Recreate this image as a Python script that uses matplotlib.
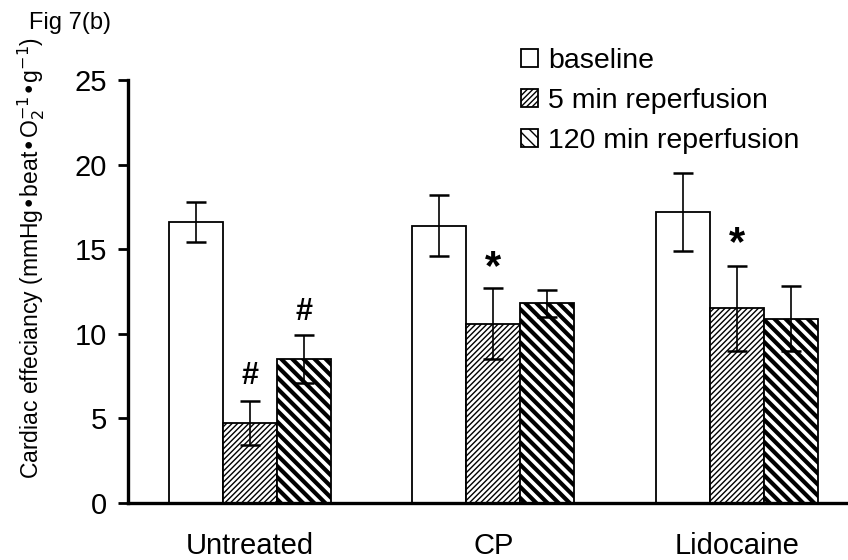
import numpy as np
import matplotlib as mpl
mpl.use('Agg')
import matplotlib.pyplot as plt

groups   = ['Untreated', 'CP', 'Lidocaine']
series   = ['baseline', '5 min reperfusion', '120 min reperfusion']
means    = [[16.6, 16.4, 17.2],     # baseline
            [4.7, 10.6, 11.5],      # 5 min reperfusion
            [8.5, 11.8, 10.9]]      # 120 min reperfusion
errs     = [[1.2, 1.8, 2.3],
            [1.3, 2.1, 2.5],
            [1.4, 0.8, 1.9]]
# significance marks: (group, series, label, y)
marks    = [(0, 1, '#', 7.5), (0, 2, '#', 11.3),
            (1, 1, '*', 13.9), (2, 1, '*', 15.3)]

mpl.rcParams['font.family'] = 'Liberation Sans'
mpl.rcParams['hatch.linewidth'] = 1.0

fig = plt.figure(figsize=(8.48, 5.6), dpi=100)
ax = fig.add_axes([0.151, 0.102, 0.849, 0.755])

x = np.arange(len(groups))
w = 0.222
hatches = ['', '//////', '\\\\\\']
for i in range(3):
    pos = x + (i - 1) * w
    bars = ax.bar(pos, means[i], w, color='white', edgecolor='black',
                  linewidth=1.3, hatch=hatches[i], label=series[i], zorder=2)
    if i == 2:
        for b in bars:
            b.set_hatch_linewidth(3.0)
    ax.errorbar(pos, means[i], yerr=errs[i], fmt='none', ecolor='black',
                elinewidth=1.2, capsize=7, capthick=1.8, zorder=3)

for g, s, lab, yv in marks:
    ax.text(x[g] + (s - 1) * w, yv, lab, ha='center', va='center',
            fontsize=30 if lab == '*' else 22, fontweight='bold')

ax.set_xlim(-0.5, 2.456)
ax.set_ylim(0, 25)
ax.set_yticks([0, 5, 10, 15, 20, 25])
ax.set_xticks(x)
ax.set_xticklabels(groups, fontsize=21)
ax.tick_params(axis='x', length=0, pad=21)
ax.tick_params(axis='y', labelsize=21, length=7, width=2, direction='out', pad=8)
for side in ['top', 'right']:
    ax.spines[side].set_visible(False)
for side in ['left', 'bottom']:
    ax.spines[side].set_linewidth(2.4)

ax.set_ylabel(r'Cardiac effeciancy (mmHg•beat•O$_2^{-1}$•g$^{-1}$)', fontsize=16.5)
ax.yaxis.set_label_coords(-0.113, 0.58)

leg = fig.legend(loc='upper left', bbox_to_anchor=(0.598, 0.94), frameon=False,
                 fontsize=20.5, handlelength=0.6, handleheight=0.6,
                 handletextpad=0.35, labelspacing=0.5, borderpad=0)

fig.text(0.034, 0.948, 'Fig 7(b)', fontsize=17)

plt.savefig('out.png', dpi=100)
